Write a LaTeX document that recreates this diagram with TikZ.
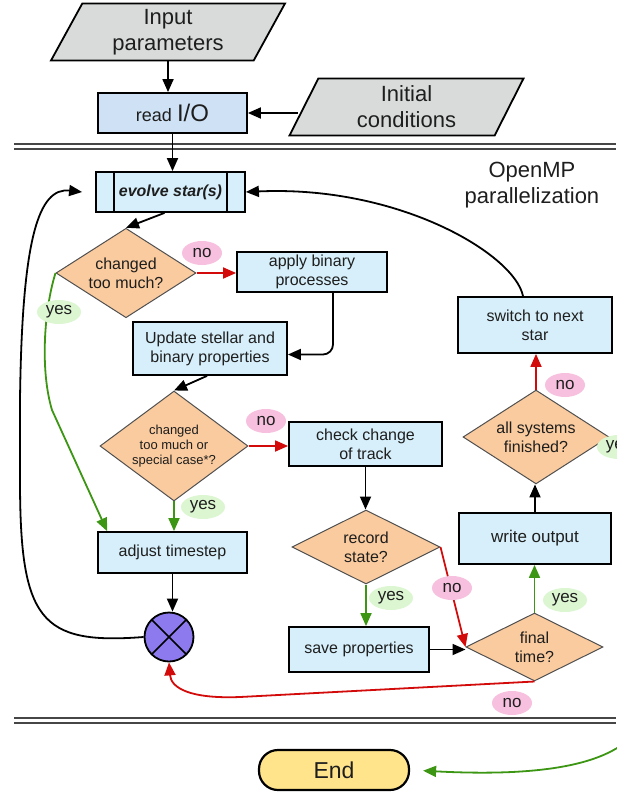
\documentclass[tikz,border=0pt]{standalone}
\usepackage{fontspec}
\setmainfont{Liberation Sans}
\usetikzlibrary{shapes.geometric,arrows.meta}

\definecolor{iofill}{RGB}{217,219,219}
\definecolor{readfill}{RGB}{207,226,245}
\definecolor{boxfill}{RGB}{214,239,250}
\definecolor{decfill}{RGB}{250,203,158}
\definecolor{decline}{RGB}{80,80,80}
\definecolor{mergefill}{RGB}{140,122,238}
\definecolor{endfill}{RGB}{255,228,140}
\definecolor{nofill}{RGB}{246,192,222}
\definecolor{yesfill}{RGB}{220,246,210}
\definecolor{noline}{RGB}{210,10,10}
\definecolor{yesline}{RGB}{60,150,20}
\definecolor{txt}{RGB}{30,30,30}
\definecolor{sepline}{RGB}{70,70,70}

\newcommand{\fs}[2]{\fontsize{#1}{#2}\selectfont}

\begin{document}
\begin{tikzpicture}[x=1pt,y=-1pt,
	every node/.style={text=txt,font=\fs{16}{19},align=center},
	io/.style={trapezium,trapezium left angle=55.6,trapezium right angle=124.4,trapezium stretches body,draw=black,line width=1.8pt,fill=iofill,minimum width=234pt,minimum height=57pt,inner sep=0pt,font=\fs{22}{26}},
	proc/.style={rectangle,draw=black,line width=1.8pt,fill=boxfill,inner sep=0pt},
	subproc/.style={proc,path picture={\draw[black,line width=1.6pt] ([xshift=18pt]path picture bounding box.north west) -- ([xshift=18pt]path picture bounding box.south west) ([xshift=-18pt]path picture bounding box.north east) -- ([xshift=-18pt]path picture bounding box.south east);}},
	decide/.style={diamond,draw=decline,line width=1pt,fill=decfill,inner sep=-4pt},
	mergept/.style={circle,draw=black,line width=1.8pt,fill=mergefill,minimum size=49pt,inner sep=0pt,path picture={\draw[black,line width=1.6pt] (path picture bounding box.north west) -- (path picture bounding box.south east) (path picture bounding box.north east) -- (path picture bounding box.south west);}},
	endst/.style={rectangle,rounded corners=19pt,draw=black,line width=2.2pt,fill=endfill,minimum width=150pt,minimum height=40pt,font=\fs{23}{26}},
	yes/.style={ellipse,fill=yesfill,inner sep=0pt,minimum width=44pt,minimum height=24pt,font=\fs{17}{19}},
	no/.style={ellipse,fill=nofill,inner sep=0pt,minimum width=40pt,minimum height=24pt,font=\fs{17}{19}},
	arr/.style={-{Triangle[length=13pt,width=11pt]},line width=1.8pt,black},
	noarr/.style={arr,noline},
	yesarr/.style={arr,yesline},
	sep/.style={sepline,line width=2pt}
]
	\useasboundingbox (0,0) rectangle (616,792);
	\draw[sep] (14,144) -- (616,144) (14,149) -- (616,149);
	\draw[sep] (14,718) -- (616,718) (14,723) -- (616,723);

	\node[io] (inparam) at (168,32) {Input\\parameters};
	\node[io] (initcond) at (406.5,107) {Initial\\conditions};
	\node[proc,fill=readfill,minimum width=149pt,minimum height=40pt] (readio) at (172.5,113) {\fs{18}{20}read \fs{24}{26}I/O};
	\node[subproc,minimum width=149pt,minimum height=40pt,font=\fs{16}{19}\bfseries\itshape] (evolve) at (170.5,192) {evolve star(s)};
	\node[font=\fs{22}{26}] (omp) at (532,185) {OpenMP\\parallelization};

	\node[decide,minimum width=140pt,minimum height=80pt] (chg1) at (126,273) {changed\\too much?};
	\node[proc,minimum width=150pt,minimum height=40pt] (applybin) at (312,272) {apply binary\\processes};
	\node[proc,minimum width=154pt,minimum height=53pt] (update) at (210,348.5) {Update stellar and\\binary properties};
	\node[decide,minimum width=148pt,minimum height=92pt,font=\fs{13}{15}] (chg2) at (174,446) {changed\\too much or\\special case*?};
	\node[proc,minimum width=153pt,minimum height=44pt] (checktrk) at (365.5,444) {check change\\of track};
	\node[decide,minimum width=148pt,minimum height=74pt] (record) at (366,547) {record\\state?};
	\node[proc,minimum width=140pt,minimum height=45pt] (saveprop) at (359,649.5) {save properties};
	\node[decide,minimum width=137pt,minimum height=68pt] (finaltime) at (534.5,647) {final\\time?};
	\node[proc,minimum width=152pt,minimum height=51pt,font=\fs{17}{19}] (writeout) at (535,538.5) {write output};
	\node[decide,minimum width=146pt,minimum height=72pt] (allsys) at (536,437) {all systems\\finished?};
	\node[proc,minimum width=154pt,minimum height=56pt] (switchst) at (535,325) {switch to next\\star};
	\node[proc,minimum width=149pt,minimum height=41pt] (adjust) at (172.5,552.5) {adjust timestep};
	\node[mergept] (merge) at (169,637) {};
	\node[endst] (endnode) at (334,770) {End};

	\draw[arr] (inparam.south) -- (inparam.south |- readio.north);
	\draw[arr,shorten <=5pt] ([yshift=-6pt]initcond.west) -- (readio.east);
	\draw[arr] (readio.south) -- (readio.south |- evolve.north);
	\draw[arr] ([xshift=-6pt]evolve.south) -- (chg1.north);
	\draw[noarr] (chg1.east) -- (chg1.east -| applybin.west);
	\draw[arr,rounded corners=10pt] ([xshift=21pt]applybin.south) |- ([yshift=-6pt]update.east);
	\draw[arr] ([xshift=-3pt]update.south) -- (chg2.north);
	\draw[noarr] (chg2.east) -- (chg2.east -| checktrk.west);
	\draw[yesarr] (chg2.south) -- (chg2.south |- adjust.north);
	\draw[yesarr] (chg1.west) .. controls (44,310) and (40,370) .. (52,410) -- ([xshift=10pt]adjust.north west);
	\draw[arr] (checktrk.south) -- (checktrk.south |- record.north);
	\draw[yesarr] (record.south) -- (record.south |- saveprop.north);
	\draw[noarr] (record.east) -- (finaltime.west);
	\draw[arr] (saveprop.east) -- (saveprop.east -| finaltime.west);
	\draw[yesarr] (finaltime.north) -- (finaltime.north |- writeout.south);
	\draw[arr] (writeout.north) -- (writeout.north |- allsys.south);
	\draw[noarr] (allsys.north) -- (allsys.north |- switchst.south);
	\draw[arr] ([xshift=-12pt]switchst.north) .. controls (515,255) and (400,185) .. (evolve.east);
	\draw[arr] (adjust.south) -- (adjust.south |- merge.north);
	\draw[noarr] (finaltime.south) -- (240,697) .. controls (190,699) and (171,688) .. (merge.south);
	\draw[arr] (merge.west) .. controls (40,645) and (20,620) .. (20,480) -- (20,400) .. controls (22,240) and (38,187) .. ([xshift=-13pt]evolve.west);
	\draw[yesarr,shorten >=13pt] (allsys.east) -| (650,690) .. controls (650,745) and (600,780) .. (endnode.east);

	\node[no] (no1) at (202,253) {no};
	\node[yes] (yes1) at (59,312) {yes};
	\node[no] (no2) at (266,421) {no};
	\node[yes] (yes2) at (203,507) {yes};
	\node[yes] (yes3) at (391,598) {yes};
	\node[no] (no3) at (452,588) {no};
	\node[yes] (yes4) at (565,600) {yes};
	\node[no] (no4) at (565,385) {no};
	\node[yes] (yes5) at (619,447) {yes};
	\node[no] (no5) at (512,703) {no};
\end{tikzpicture}
\end{document}
